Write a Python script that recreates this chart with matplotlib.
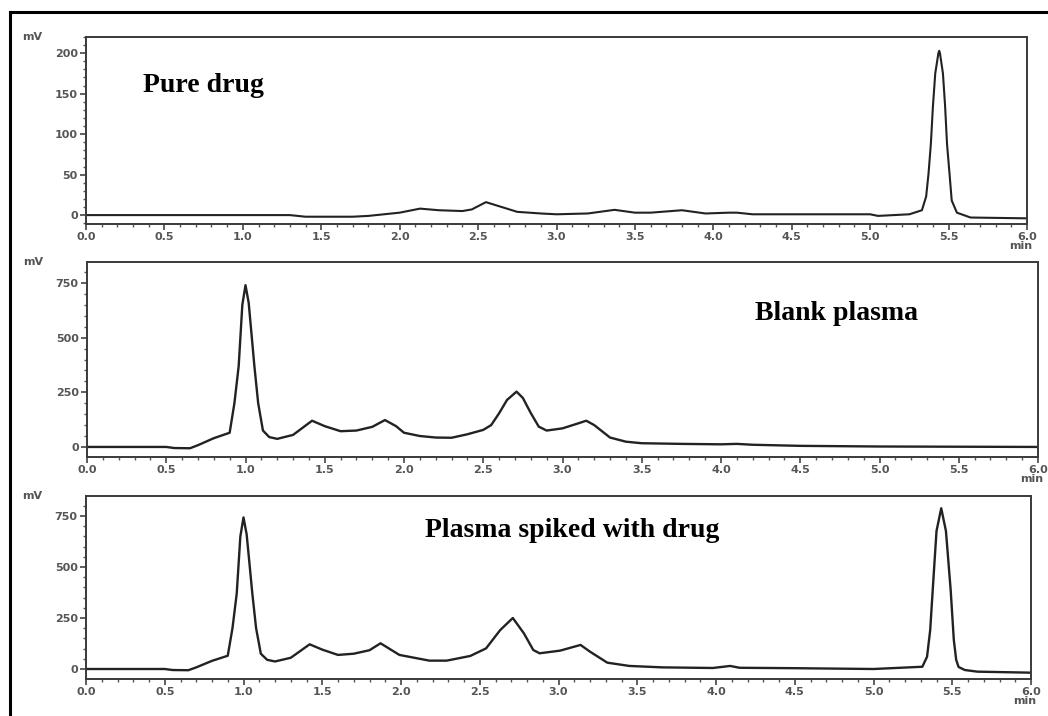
#!/usr/bin/env python3
"""
Chromatograms: pure drug, blank plasma and plasma spiked with drug
"""

import numpy as np
import matplotlib
matplotlib.use("Agg")
import matplotlib.pyplot as plt
from matplotlib.lines import Line2D
from matplotlib.ticker import MultipleLocator, FormatStrFormatter

# --- data (time in min, signal in mV) ---
pure_time = [0.0, 1.3, 1.4, 1.7, 1.8, 1.9, 2.0, 2.13, 2.25, 2.4, 2.46, 2.55,
             2.65, 2.75, 2.9, 3.0, 3.2, 3.37, 3.5, 3.6, 3.8, 3.95, 4.1, 4.15,
             4.25, 4.5, 5.0, 5.05, 5.25, 5.33, 5.357, 5.372, 5.387, 5.40,
             5.415, 5.435, 5.44, 5.445, 5.464, 5.478, 5.49, 5.506, 5.52,
             5.553, 5.64, 6.0]
pure_mv = [0, 0, -2, -2, -1, 1, 3, 8, 6, 5, 7, 16,
           10, 4, 2, 1, 2, 6.5, 3, 3, 6, 2, 3, 3,
           1, 1, 1, -1, 1, 6, 23, 51, 88, 134,
           175, 200, 203, 200, 175, 134, 88, 51, 18,
           3, -3, -4]

blank_time = [0.0, 0.5, 0.55, 0.65, 0.7, 0.8, 0.9, 0.93, 0.957, 0.98, 1.0,
              1.02, 1.04, 1.056, 1.08, 1.11, 1.15, 1.2, 1.3, 1.42, 1.5, 1.6,
              1.7, 1.8, 1.88, 1.95, 2.0, 2.1, 2.2, 2.3, 2.4, 2.5, 2.55, 2.6,
              2.65, 2.71, 2.75, 2.8, 2.85, 2.9, 3.0, 3.1, 3.15, 3.2, 3.3, 3.4,
              3.5, 3.75, 4.0, 4.1, 4.2, 4.5, 5.0, 6.0]
blank_mv = [0, 0, -5, -6, 8, 40, 65, 200, 370, 650, 740,
            660, 500, 370, 200, 75, 45, 37, 55, 120, 95, 72,
            75, 92, 123, 95, 65, 50, 43, 42, 58, 78, 100, 154,
            215, 253, 224, 155, 93, 75, 85, 108, 120, 100, 43, 24,
            17, 14, 12, 14, 10, 5, 2, 0]

spiked_time = [0.0, 0.5, 0.55, 0.65, 0.7, 0.8, 0.9, 0.93, 0.957, 0.98, 1.0,
               1.02, 1.04, 1.056, 1.08, 1.11, 1.15, 1.2, 1.3, 1.42, 1.5, 1.6,
               1.7, 1.8, 1.87, 1.99, 2.18, 2.29, 2.44, 2.54, 2.63, 2.71, 2.78,
               2.84, 2.88, 3.01, 3.14, 3.2, 3.31, 3.45, 3.66, 3.98, 4.09, 4.15,
               4.5, 5.0, 5.31, 5.34, 5.36, 5.38, 5.40, 5.43, 5.46, 5.49, 5.51,
               5.525, 5.54, 5.58, 5.66, 6.0]
spiked_mv = [0, 0, -5, -6, 8, 40, 65, 200, 370, 650, 743,
             660, 500, 370, 200, 75, 45, 37, 55, 121, 95, 69,
             75, 92, 126, 69, 41, 41, 64, 101, 191, 250, 175,
             93, 77, 90, 118, 85, 31, 15, 8, 5, 15, 6,
             4, 0, 11, 60, 191, 436, 676, 788, 676, 387, 142,
             45, 10, -5, -13, -18]

labels = ["Pure drug", "Blank plasma", "Plasma spiked with drug"]

W, H = 1048, 716
fig = plt.figure(figsize=(W / 100, H / 100), dpi=100)


def px_axes(left, right, top, bottom):
    """Axes from pixel box."""
    return fig.add_axes([left / W, 1 - bottom / H, (right - left) / W, (bottom - top) / H])


def style(ax, ymajor, yminor, ylim):
    ax.set_xlim(0, 6.0)
    ax.set_ylim(*ylim)
    ax.xaxis.set_major_locator(MultipleLocator(0.5))
    ax.xaxis.set_minor_locator(MultipleLocator(0.1))
    ax.xaxis.set_major_formatter(FormatStrFormatter("%.1f"))
    ax.yaxis.set_major_locator(MultipleLocator(ymajor))
    ax.yaxis.set_minor_locator(MultipleLocator(yminor))
    for s in ax.spines.values():
        s.set_color("#3a3a3a")
        s.set_linewidth(1.4)
    ax.tick_params(axis="both", which="major", direction="out", length=4,
                   width=1.2, color="#444444", labelsize=8, labelcolor="#555555", pad=2)
    ax.tick_params(axis="both", which="minor", direction="out", length=2,
                   width=1.0, color="#555555")
    for lab in ax.get_xticklabels() + ax.get_yticklabels():
        lab.set_fontweight("bold")
    # unit labels, placed in pixels relative to the axes corners
    ax.annotate("mV", xy=(0, 1), xycoords="axes fraction", xytext=(-64, 0),
                textcoords="offset pixels", fontsize=8, fontweight="bold",
                color="#555555", ha="left", va="center")
    ax.annotate("min", xy=(1, 0), xycoords="axes fraction", xytext=(-6, -22),
                textcoords="offset pixels", fontsize=8, fontweight="bold",
                color="#555555", ha="center", va="center")


def label(ax, x, y, text):
    ax.text(x, y, text, transform=ax.transAxes, family="Liberation Serif",
            fontweight="bold", fontsize=20, va="baseline", ha="left")


ax1 = px_axes(86, 1027, 37, 224)
ax1.plot(pure_time, pure_mv, color="#222222", lw=1.5)
style(ax1, 50, 10, (-11, 220))
label(ax1, 0.0606, 0.706, labels[0])

ax2 = px_axes(87, 1038, 262, 457)
ax2.plot(blank_time, blank_mv, color="#222222", lw=1.7)
style(ax2, 250, 50, (-46, 846))
label(ax2, 0.702, 0.703, labels[1])

ax3 = px_axes(86, 1031, 496, 679)
ax3.plot(spiked_time, spiked_mv, color="#222222", lw=1.7)
style(ax3, 250, 50, (-49, 848))
label(ax3, 0.359, 0.776, labels[2])

# outer frame (top and left edges only)
fig.add_artist(Line2D([10 / W, 1.0], [1 - 12 / H, 1 - 12 / H], color="black", lw=2.2))
fig.add_artist(Line2D([10 / W, 10 / W], [0.0, 1 - 12 / H], color="black", lw=2.2))

fig.savefig("out.png", dpi=100, facecolor="white")
